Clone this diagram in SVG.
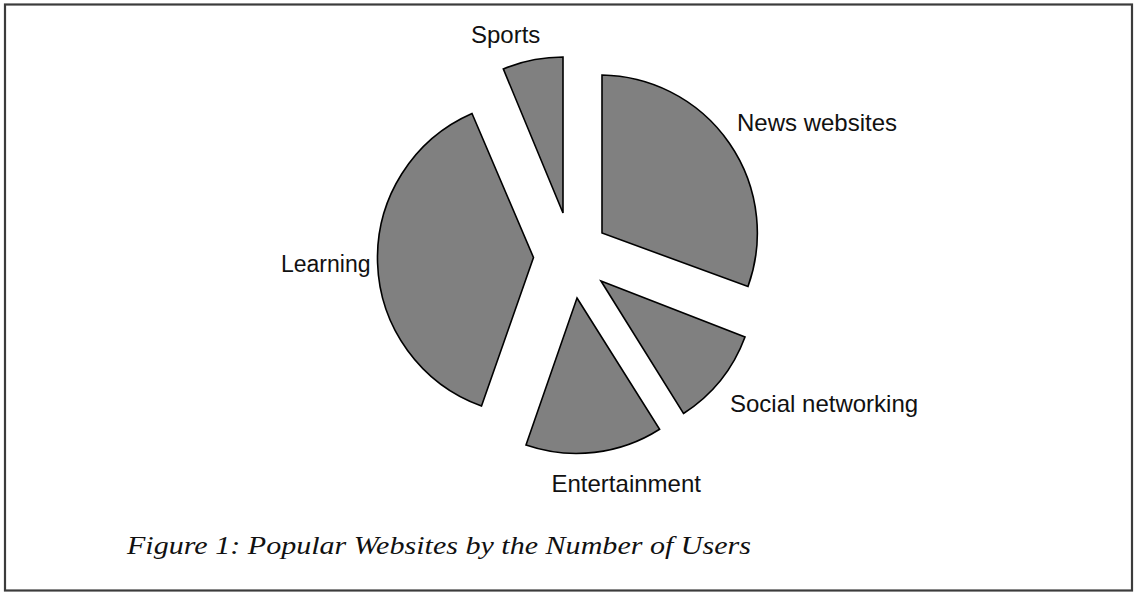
<svg xmlns="http://www.w3.org/2000/svg" width="1135" height="592" viewBox="0 0 1135 592">
<style>
.slice{fill:#808080;stroke:#000;stroke-width:1.6;stroke-linejoin:miter}
.lbl{font-family:"Liberation Sans",Arial,sans-serif;font-size:24px;fill:#111}
.cap{font-family:"Liberation Serif","Times New Roman",serif;font-style:italic;font-size:26px;fill:#111}
</style>
<rect x="0" y="0" width="1135" height="592" fill="#fff"/>
<rect x="5" y="4.5" width="1127" height="586" fill="none" stroke="#3c3c3c" stroke-width="2.2"/>
<g id="connectors"></g>
<g id="sports"><path class="slice" d="M563,213 L503.3,68.9 A156,156 0 0,1 563,57 Z"/><text class="lbl" x="471" y="43">Sports</text></g>
<g id="news"><path class="slice" d="M602,233 L602,75 A158,158 0 0,1 748,286.5 Z"/><text class="lbl" x="737" y="131">News websites</text></g>
<g id="social"><path class="slice" d="M601,281 L745,337 A155,155 0 0,1 683.5,413.5 Z"/><text class="lbl" x="730" y="412">Social networking</text></g>
<g id="entertainment"><path class="slice" d="M577,298 L659.6,429.2 A155,155 0 0,1 526,445 Z"/><text class="lbl" x="551.5" y="492">Entertainment</text></g>
<g id="learning"><path class="slice" d="M533.5,257.5 L481.5,406 A157.5,157.5 0 0,1 472,113.5 Z"/><text class="lbl" x="281" y="272" style="font-size:23px">Learning</text></g>
<text class="cap" x="127" y="554" textLength="624" lengthAdjust="spacingAndGlyphs">Figure 1: Popular Websites by the Number of Users</text>
</svg>
